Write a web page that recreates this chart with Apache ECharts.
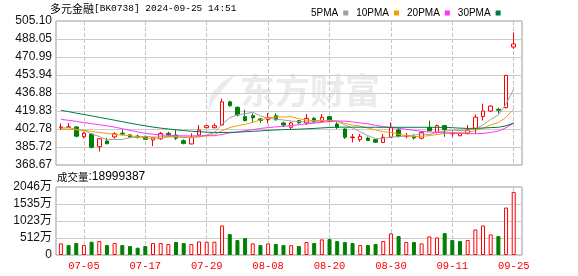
<!DOCTYPE html>
<html><head><meta charset="utf-8">
<script src="https://cdn.jsdelivr.net/npm/echarts@6/dist/echarts.min.js"></script>
<style>html,body{margin:0;padding:0;background:#fff}#c{width:578px;height:276px}</style>
</head><body><div id="c"></div>
<script>
const dates = ['07-02','07-03','07-04','07-05','07-08','07-09','07-10','07-11','07-12','07-15','07-16','07-17','07-18','07-19','07-22','07-23','07-24','07-25','07-26','07-29','07-30','07-31',
 '08-01','08-02','08-05','08-06','08-07','08-08','08-09','08-12','08-13','08-14','08-15','08-16','08-19','08-20','08-21','08-22','08-23','08-26','08-27','08-28','08-29','08-30',
 '09-02','09-03','09-04','09-05','09-06','09-09','09-10','09-11','09-12','09-13','09-18','09-19','09-20','09-23','09-24','09-25'];
const openP  = [404.0,404.4,404.6,395.5,398.0,386.0,391.4,395.3,398.8,397.2,396.0,395.2,392.4,393.5,398.7,397.1,391.7,388.6,397.1,404.0,404.0,406.6,428.5,423.3,414.5,415.4,412.3,411.6,415.4,408.5,404.4,410.7,408.5,412.9,410.0,414.5,407.5,402.8,394.6,392.7,394.2,392.7,390.1,394.9,401.8,395.8,395.8,394.1,404.2,399.6,406.0,398.3,396.4,398.6,403.4,414.7,419.8,421.4,423.0,480.5];
const closeP = [404.8,404.8,396.0,398.8,385.4,393.5,388.8,398.2,398.0,395.2,395.0,393.0,394.6,398.6,397.3,394.0,389.2,394.9,401.8,405.9,405.9,428.5,424.8,416.0,410.7,413.4,410.9,413.8,411.6,406.6,408.5,408.6,412.9,409.7,413.8,410.0,404.4,395.0,395.2,395.8,391.9,390.3,394.9,404.0,395.8,396.7,394.3,399.6,401.2,406.0,402.1,398.9,398.6,401.8,414.0,419.8,424.5,420.6,453.5,483.3];
const lowP   = [402.0,404.0,394.8,394.0,384.4,381.4,388.5,393.6,396.8,394.0,393.8,392.2,386.6,392.4,395.5,392.4,388.2,388.4,396.1,403.4,403.4,406.0,423.8,414.8,410.0,409.1,408.5,408.2,410.7,404.4,402.8,407.7,406.6,408.5,409.1,409.0,402.8,393.3,390.1,390.8,391.5,389.5,389.5,394.6,394.9,394.0,392.7,393.0,400.8,398.6,395.4,395.4,396.0,397.8,398.6,410.8,419.0,417.3,422.3,478.5];
const highP  = [408.0,408.3,405.5,400.3,398.8,394.2,394.4,399.8,402.3,397.8,397.4,396.2,395.2,400.0,400.2,401.8,393.0,398.7,406.6,406.6,408.1,431.5,429.5,424.3,421.0,417.6,413.2,418.0,417.6,409.7,410.0,411.3,417.0,414.0,417.0,415.4,409.1,403.4,398.0,398.0,395.5,393.3,398.0,409.0,404.4,399.0,397.4,400.5,410.8,407.0,406.3,400.5,399.0,406.5,416.6,426.8,425.3,423.0,454.2,494.2];
const ma5  = [403.5,404.0,402.5,401.5,398.0,395.7,392.5,392.9,392.8,394.7,395.0,395.9,395.1,395.3,395.7,395.5,394.7,394.8,395.4,397.2,399.5,407.4,413.4,416.3,417.2,418.7,415.2,413.0,412.1,411.3,410.3,409.8,409.6,409.3,410.7,411.0,410.2,406.6,403.7,400.1,396.5,393.6,393.6,395.4,395.4,396.3,397.1,398.1,397.5,399.6,400.6,401.6,401.4,401.5,403.1,406.6,411.8,416.2,426.5,440.4];
const ma10 = [402.5,402.5,402.0,401.5,400.5,399.5,398.5,397.7,397.0,396.4,395.4,394.2,394.0,394.0,395.2,395.3,395.3,395.0,395.4,396.4,397.5,401.1,404.1,405.9,407.2,409.1,411.3,413.2,414.2,414.2,414.5,412.5,411.3,410.7,411.0,410.6,410.0,408.1,406.5,405.4,403.7,401.9,400.1,399.5,397.7,396.4,395.4,395.9,396.5,397.5,398.5,399.4,399.7,399.5,401.3,403.6,406.7,408.8,414.0,421.7];
const ma20 = [412.0,411.0,410.0,408.8,407.8,406.8,405.8,404.5,403.0,401.5,400.0,398.6,397.8,397.2,396.8,396.5,396.3,396.2,396.3,396.4,396.4,397.6,399.1,399.9,401.2,402.2,403.3,404.1,404.8,405.3,406.0,406.8,407.7,408.3,409.1,409.9,410.4,410.2,409.5,408.6,407.6,406.2,405.0,404.2,403.5,402.5,401.5,400.5,400.0,399.5,399.2,398.8,398.5,398.3,398.3,398.6,399.5,400.8,404.0,408.5];
const ma30 = [420.5,419.2,417.8,416.5,415.2,413.8,412.5,411.1,409.7,408.3,407.0,405.8,404.6,403.6,402.8,402.0,401.3,400.7,400.2,399.8,399.5,399.5,399.6,399.8,400.2,400.6,401.0,401.5,401.9,402.2,402.4,402.6,403.0,403.3,403.8,404.2,404.5,404.5,404.5,404.5,404.4,404.4,404.4,404.4,404.4,404.4,404.4,404.4,404.4,404.4,404.3,404.0,403.6,403.3,403.4,403.7,404.1,404.4,405.8,408.3];
const volume = [349,299,359,299,399,419,299,359,299,269,220,269,359,359,329,389,359,329,409,399,399,888,629,449,509,349,299,349,329,299,295,269,389,359,469,479,419,389,359,299,299,329,419,649,569,389,389,349,559,529,659,449,419,449,768,888,619,569,1427,1900];
const volUp  = [1,0,0,1,0,1,0,1,0,0,0,0,1,1,1,0,0,1,1,1,1,1,0,0,0,1,0,1,0,0,1,0,1,0,1,0,0,0,0,1,0,0,1,1,0,1,0,1,1,1,0,0,0,1,1,1,1,0,1,1];
const priceTicks = ['368.67','385.72','402.78','419.83','436.88','453.94','470.99','488.05','505.10'];
const volTicks = ['0','512万','1023万','1535万','2046万'];
const priceMin = 368.67, priceMax = 505.10, volMax = 2046;
const titleName = '多元金融', titleRest = '[BK0738] 2024-09-25 14:51';
const volName = '成交量', volRest = ':18999387';
const maNames = ['5PMA','10PMA','20PMA','30PMA'];

const RED = '#ff0000', GREEN = '#008000';
const maColors = ['#a0a0a0','#f0a000','#ff33ff','#007a3d'];
const labelIdx = (i) => i % 8 === 3;
const gridLine = {show:true, lineStyle:{color:'#cccccc', width:1}};
// helper axis for the dashed date lines: trading-day offset from the first labelled day, one line every 8 days
const dayStep = 7.675, firstX = 60.9, labelEvery = 8, firstLabel = 3;
const helpMin = -labelEvery, helpMax = 64;
const helpLeft = firstX + (firstLabel + helpMin) * dayStep;
const helpWidth = (helpMax - helpMin) * dayStep;
const dashSplit = {show:true, showMinLine:false, showMaxLine:false, lineStyle:{color:'#c4c4c4', type:'dashed', width:1}};

const chart = echarts.init(document.getElementById('c'), null, {renderer:'canvas'});
const candleData = openP.map((o,i)=>[o, closeP[i], lowP[i], highP[i]]);
const volData = volume.map((v,i)=>({value:v, itemStyle: volUp[i] ? {color:'#fff', borderColor:RED, borderWidth:1} : {color:GREEN, borderColor:GREEN, borderWidth:1}}));

chart.setOption({
  animation:false,
  backgroundColor:'#fff',
  grid:[
    {left:56, top:21, width:466, height:144, show:true, borderColor:'#999', borderWidth:1},
    {left:firstX, top:21, width:dayStep*59, height:144},
    {left:56, top:187, width:466, height:68, show:true, borderColor:'#999', borderWidth:1},
    {left:firstX, top:187, width:dayStep*59, height:68},
    {left:helpLeft, top:21, width:helpWidth, height:144},
    {left:helpLeft, top:187, width:helpWidth, height:68}
  ],
  xAxis:[
    {gridIndex:0, type:'value', min:0, max:1, show:false},
    {gridIndex:1, type:'category', data:dates, boundaryGap:false, axisLine:{show:false}, axisTick:{show:false}, axisLabel:{show:false}, splitLine:{show:false}},
    {gridIndex:2, type:'value', min:0, max:1, show:false},
    {gridIndex:3, type:'category', data:dates, boundaryGap:false, axisLine:{show:false}, axisTick:{show:false},
      axisLabel:{show:true, interval:(i)=>labelIdx(i), color:RED, fontSize:10.5, fontFamily:'Liberation Mono', margin:6}, splitLine:{show:false}},
    {gridIndex:4, type:'value', min:helpMin, max:helpMax, interval:labelEvery, axisLine:{show:false}, axisTick:{show:false}, axisLabel:{show:false}, splitLine:dashSplit},
    {gridIndex:5, type:'value', min:helpMin, max:helpMax, interval:labelEvery, axisLine:{show:false}, axisTick:{show:false}, axisLabel:{show:false}, splitLine:dashSplit}
  ],
  yAxis:[
    {gridIndex:0, type:'value', min:0, max:8, interval:1, axisLine:{show:false}, axisTick:{show:false}, splitLine:gridLine,
      axisLabel:{formatter:(v)=>priceTicks[v], color:'#111', fontSize:12, fontFamily:'Liberation Sans', margin:4}},
    {gridIndex:1, type:'value', min:priceMin, max:priceMax, show:false, splitLine:{show:false}},
    {gridIndex:2, type:'value', min:0, max:4, interval:1, axisLine:{show:false}, axisTick:{show:false}, splitLine:gridLine,
      axisLabel:{formatter:(v)=>volTicks[v], color:'#111', fontSize:12, fontFamily:'Liberation Sans, Noto Sans CJK SC', margin:4}},
    {gridIndex:3, type:'value', min:0, max:volMax, show:false, splitLine:{show:false}},
    {gridIndex:4, type:'value', min:0, max:1, show:false, splitLine:{show:false}},
    {gridIndex:5, type:'value', min:0, max:1, show:false, splitLine:{show:false}}
  ],
  legend:{
    left:306, top:3, itemGap:8, itemWidth:5, itemHeight:5, icon:'rect', align:'right',
    textStyle:{fontSize:10, fontFamily:'Liberation Sans Narrow, Liberation Sans', color:'#000'},
    data:maNames, selectedMode:false
  },
  graphic:[
    {type:'text', left:240, top:73, z:-10, silent:true, style:{text:'东方财富', font:'bold 35px "Noto Sans CJK SC"', fill:'#ebebeb'}},
    {type:'polygon', z:-10, silent:true, shape:{points:[[236,74],[222,82],[210,96],[208,112],[214,100],[224,88]]}, style:{fill:'#ebebeb'}},
    {type:'text', left:50, top:3, style:{rich:{a:{font:'11px "Noto Sans CJK SC"', fill:'#000'}, b:{font:'9.5px "Liberation Mono"', fill:'#000'}}, text:'{a|'+titleName+'}{b|'+titleRest+'}'}},
    {type:'text', left:57, top:171, style:{rich:{a:{font:'10.5px "Noto Sans CJK SC"', fill:'#000'}, b:{font:'12px "Liberation Sans"', fill:'#000'}}, text:'{a|'+volName+'}{b|'+volRest+'}'}}
  ],
  series:[
    {type:'candlestick', xAxisIndex:1, yAxisIndex:1, data:candleData, barWidth:4,
      itemStyle:{color:'#fff', color0:GREEN, borderColor:RED, borderColor0:GREEN, borderWidth:1}},
    {name:maNames[0], type:'line', xAxisIndex:1, yAxisIndex:1, data:ma5, symbol:'none', color:maColors[0], lineStyle:{width:1}, z:3},
    {name:maNames[1], type:'line', xAxisIndex:1, yAxisIndex:1, data:ma10, symbol:'none', color:maColors[1], lineStyle:{width:1}, z:3},
    {name:maNames[2], type:'line', xAxisIndex:1, yAxisIndex:1, data:ma20, symbol:'none', color:maColors[2], lineStyle:{width:1}, z:3},
    {name:maNames[3], type:'line', xAxisIndex:1, yAxisIndex:1, data:ma30, symbol:'none', color:maColors[3], lineStyle:{width:1}, z:3},
    {type:'bar', xAxisIndex:3, yAxisIndex:3, data:volData, barWidth:4}
  ]
});
</script></body></html>
